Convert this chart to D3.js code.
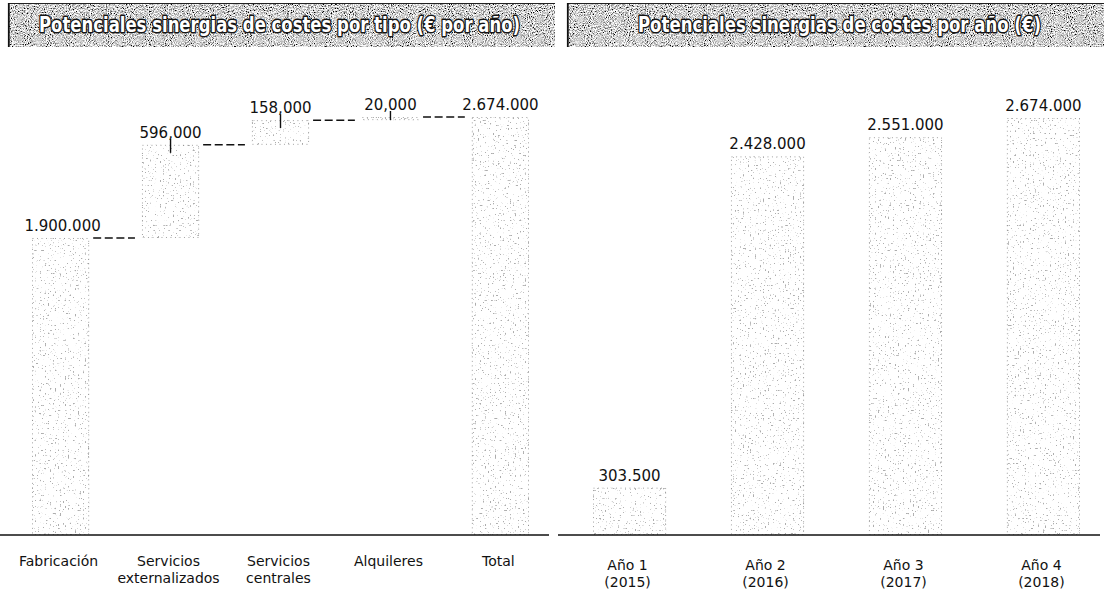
<!DOCTYPE html>
<html>
<head>
<meta charset="utf-8">
<script src="https://cdn.jsdelivr.net/npm/d3@7"></script>
<style>
  html, body { margin: 0; padding: 0; background: #ffffff; }
  svg { display: block; }
  .lbl { font-family: "DejaVu Sans", Verdana, sans-serif; font-size: 15px; fill: #111; }
  .tick text { font-family: "DejaVu Sans", Verdana, sans-serif; font-size: 14px; fill: #111; }
  .title { font-family: "DejaVu Sans Condensed", "DejaVu Sans", sans-serif; font-weight: bold; font-size: 21px;
           fill: #ffffff; stroke: #151515; stroke-width: 2.8px; paint-order: stroke; stroke-linejoin: round; }
</style>
</head>
<body>
<script>
// Waterfall: potential cost synergies by type (€ per year)
const wfCategories = ["Fabricación", "Servicios externalizados", "Servicios centrales", "Alquileres", "Total"];
const wfTickLines = [["Fabricación"], ["Servicios", "externalizados"], ["Servicios", "centrales"], ["Alquileres"], ["Total"]];
const wfValues = [1900000, 596000, 158000, 20000, 2674000];
const wfLabels = ["1.900.000", "596,000", "158,000", "20,000", "2.674.000"];

// Bars: potential cost synergies per year (€)
const yearCategories = ["Año 1 (2015)", "Año 2 (2016)", "Año 3 (2017)", "Año 4 (2018)"];
const yearTickLines = [["Año 1", "(2015)"], ["Año 2", "(2016)"], ["Año 3", "(2017)"], ["Año 4", "(2018)"]];
const yearValues = [303500, 2428000, 2551000, 2674000];
const yearLabels = ["303.500", "2.428.000", "2.551.000", "2.674.000"];

const titles = ["Potenciales sinergias de costes por tipo (€ por año)", "Potenciales sinergias de costes por año (€)"];

const W = 1104, H = 593;
const svg = d3.select("body").append("svg").attr("width", W).attr("height", H);
const defs = svg.append("defs");

// stippled fill for the bars
const st = defs.append("filter").attr("id", "stipple")
  .attr("x", 0).attr("y", 0).attr("width", "100%").attr("height", "100%");
st.append("feTurbulence").attr("type", "fractalNoise").attr("baseFrequency", 0.6)
  .attr("numOctaves", 1).attr("seed", 4).attr("result", "n");
st.append("feColorMatrix").attr("in", "n").attr("type", "matrix")
  .attr("values", "0 0 0 0 0.42  0 0 0 0 0.42  0 0 0 0 0.42  12 0 0 0 -7.7").attr("result", "dots");
st.append("feComposite").attr("in", "dots").attr("in2", "SourceGraphic").attr("operator", "in");

// grainy grey for the title bands
const gr = defs.append("filter").attr("id", "grain")
  .attr("x", 0).attr("y", 0).attr("width", "100%").attr("height", "100%");
gr.append("feTurbulence").attr("type", "fractalNoise").attr("baseFrequency", 0.95)
  .attr("numOctaves", 2).attr("seed", 9).attr("result", "n");
gr.append("feColorMatrix").attr("in", "n").attr("type", "matrix")
  .attr("values", "2.6 0 0 0 -0.66  2.6 0 0 0 -0.66  2.6 0 0 0 -0.66  0 0 0 0 1").attr("result", "g");
gr.append("feComposite").attr("in", "g").attr("in2", "SourceGraphic").attr("operator", "in");

// ---- title bands ----
function titleBand(x0, x1, text, tx0, tx1) {
  const g = svg.append("g");
  g.append("rect").attr("x", x0).attr("y", 3).attr("width", x1 - x0).attr("height", 44)
    .attr("fill", "#a0a0a0").attr("filter", "url(#grain)");
  g.append("line").attr("x1", x0).attr("x2", x1).attr("y1", 3.5).attr("y2", 3.5)
    .attr("stroke", "#222").attr("stroke-width", 1.2);
  g.append("line").attr("x1", x0 + 0.8).attr("x2", x0 + 0.8).attr("y1", 3).attr("y2", 47)
    .attr("stroke", "#111").attr("stroke-width", 1.8);
  g.append("text").attr("class", "title").attr("x", tx0).attr("y", 32)
    .attr("textLength", tx1 - tx0).attr("lengthAdjust", "spacingAndGlyphs").text(text);
}
titleBand(8, 555, titles[0], 39, 520);
titleBand(567, 1104, titles[1], 638, 1041);

function multiLineAxis(g, lines, cats, dy1, dy2) {
  g.select(".domain").remove();
  g.selectAll(".tick text").each(function (d) {
    const t = d3.select(this).text(null).attr("dy", null).attr("y", null);
    const ls = lines[cats.indexOf(d)];
    ls.forEach((s, i) => t.append("tspan").attr("x", -2).attr("y", i === 0 ? dy1 : dy2).text(s));
  });
}

// ---- left: waterfall ----
const xL = d3.scaleBand().domain(wfCategories).range([32, 529]).paddingInner(0.48).paddingOuter(0);
const yL = d3.scaleLinear().domain([0, 2674000]).range([535, 117]);

let run = 0;
const wf = wfCategories.map((c, i) => {
  const last = i === wfCategories.length - 1;
  const start = last ? 0 : run;
  const end = last ? wfValues[i] : run + wfValues[i];
  if (!last) run = end;
  return { c, start, end, label: wfLabels[i], i };
});

const gL = svg.append("g");
gL.selectAll("rect.bar").data(wf).join("rect").attr("class", "bar")
  .attr("x", d => xL(d.c)).attr("width", xL.bandwidth())
  .attr("y", d => yL(d.end)).attr("height", d => Math.max(1, yL(d.start) - yL(d.end)))
  .attr("fill", "#000").attr("filter", "url(#stipple)");
gL.selectAll("rect.edge").data(wf).join("rect").attr("class", "edge")
  .attr("x", d => xL(d.c) + 0.5).attr("width", xL.bandwidth() - 1)
  .attr("y", d => yL(d.end) + 0.5).attr("height", d => Math.max(0, yL(d.start) - yL(d.end) - 1))
  .attr("fill", "none").attr("stroke", "#8a8a8a").attr("stroke-width", 0.8).attr("stroke-dasharray", "1 3.5");

// dashed connectors between steps
gL.selectAll("line.conn").data(wf.slice(0, -1)).join("line").attr("class", "conn")
  .attr("x1", d => xL(d.c) + xL.bandwidth() + 4)
  .attr("x2", d => xL(wfCategories[d.i + 1]) - 7)
  .attr("y1", d => yL(d.end)).attr("y2", d => yL(d.end))
  .attr("stroke", "#111").attr("stroke-width", 1.5).attr("stroke-dasharray", "8 3.6");

// small leaders from the middle labels
gL.selectAll("line.lead").data(wf.slice(1, -1)).join("line").attr("class", "lead")
  .attr("x1", d => xL(d.c) + xL.bandwidth() / 2).attr("x2", d => xL(d.c) + xL.bandwidth() / 2)
  .attr("y1", d => yL(d.end) - 6).attr("y2", d => Math.min(yL(d.end) + 8, yL(d.start)))
  .attr("stroke", "#111").attr("stroke-width", 1.4);

gL.selectAll("text.lbl").data(wf).join("text").attr("class", "lbl")
  .attr("x", d => xL(d.c) + xL.bandwidth() / 2 + (d.i === 0 ? 2 : 0))
  .attr("y", d => yL(d.end) - 7)
  .attr("text-anchor", "middle").text(d => d.label);

gL.append("line").attr("x1", 0).attr("x2", 549).attr("y1", yL(0)).attr("y2", yL(0))
  .attr("stroke", "#111").attr("stroke-width", 1.6);
gL.append("g").attr("transform", `translate(0,${yL(0)})`)
  .call(d3.axisBottom(xL).tickSize(0))
  .call(g => multiLineAxis(g, wfTickLines, wfCategories, 31, 48));

// ---- right: yearly bars ----
const xR = d3.scaleBand().domain(yearCategories).range([593, 1080]).paddingInner(0.47).paddingOuter(0);
const yR = d3.scaleLinear().domain([0, 2674000]).range([535, 118]);
const yr = yearCategories.map((c, i) => ({ c, v: yearValues[i], label: yearLabels[i] }));

const gR = svg.append("g");
gR.selectAll("rect.bar").data(yr).join("rect").attr("class", "bar")
  .attr("x", d => xR(d.c)).attr("width", xR.bandwidth())
  .attr("y", d => yR(d.v)).attr("height", d => yR(0) - yR(d.v))
  .attr("fill", "#000").attr("filter", "url(#stipple)");
gR.selectAll("rect.edge").data(yr).join("rect").attr("class", "edge")
  .attr("x", d => xR(d.c) + 0.5).attr("width", xR.bandwidth() - 1)
  .attr("y", d => yR(d.v) + 0.5).attr("height", d => yR(0) - yR(d.v) - 1)
  .attr("fill", "none").attr("stroke", "#8a8a8a").attr("stroke-width", 0.8).attr("stroke-dasharray", "1 3.5");
gR.selectAll("text.lbl").data(yr).join("text").attr("class", "lbl")
  .attr("x", d => xR(d.c) + xR.bandwidth() / 2).attr("y", d => yR(d.v) - 7)
  .attr("text-anchor", "middle").text(d => d.label);

gR.append("line").attr("x1", 558).attr("x2", 1100).attr("y1", yR(0)).attr("y2", yR(0))
  .attr("stroke", "#111").attr("stroke-width", 1.6);
gR.append("g").attr("transform", `translate(0,${yR(0)})`)
  .call(d3.axisBottom(xR).tickSize(0))
  .call(g => multiLineAxis(g, yearTickLines, yearCategories, 35, 52));
</script>
</body>
</html>
